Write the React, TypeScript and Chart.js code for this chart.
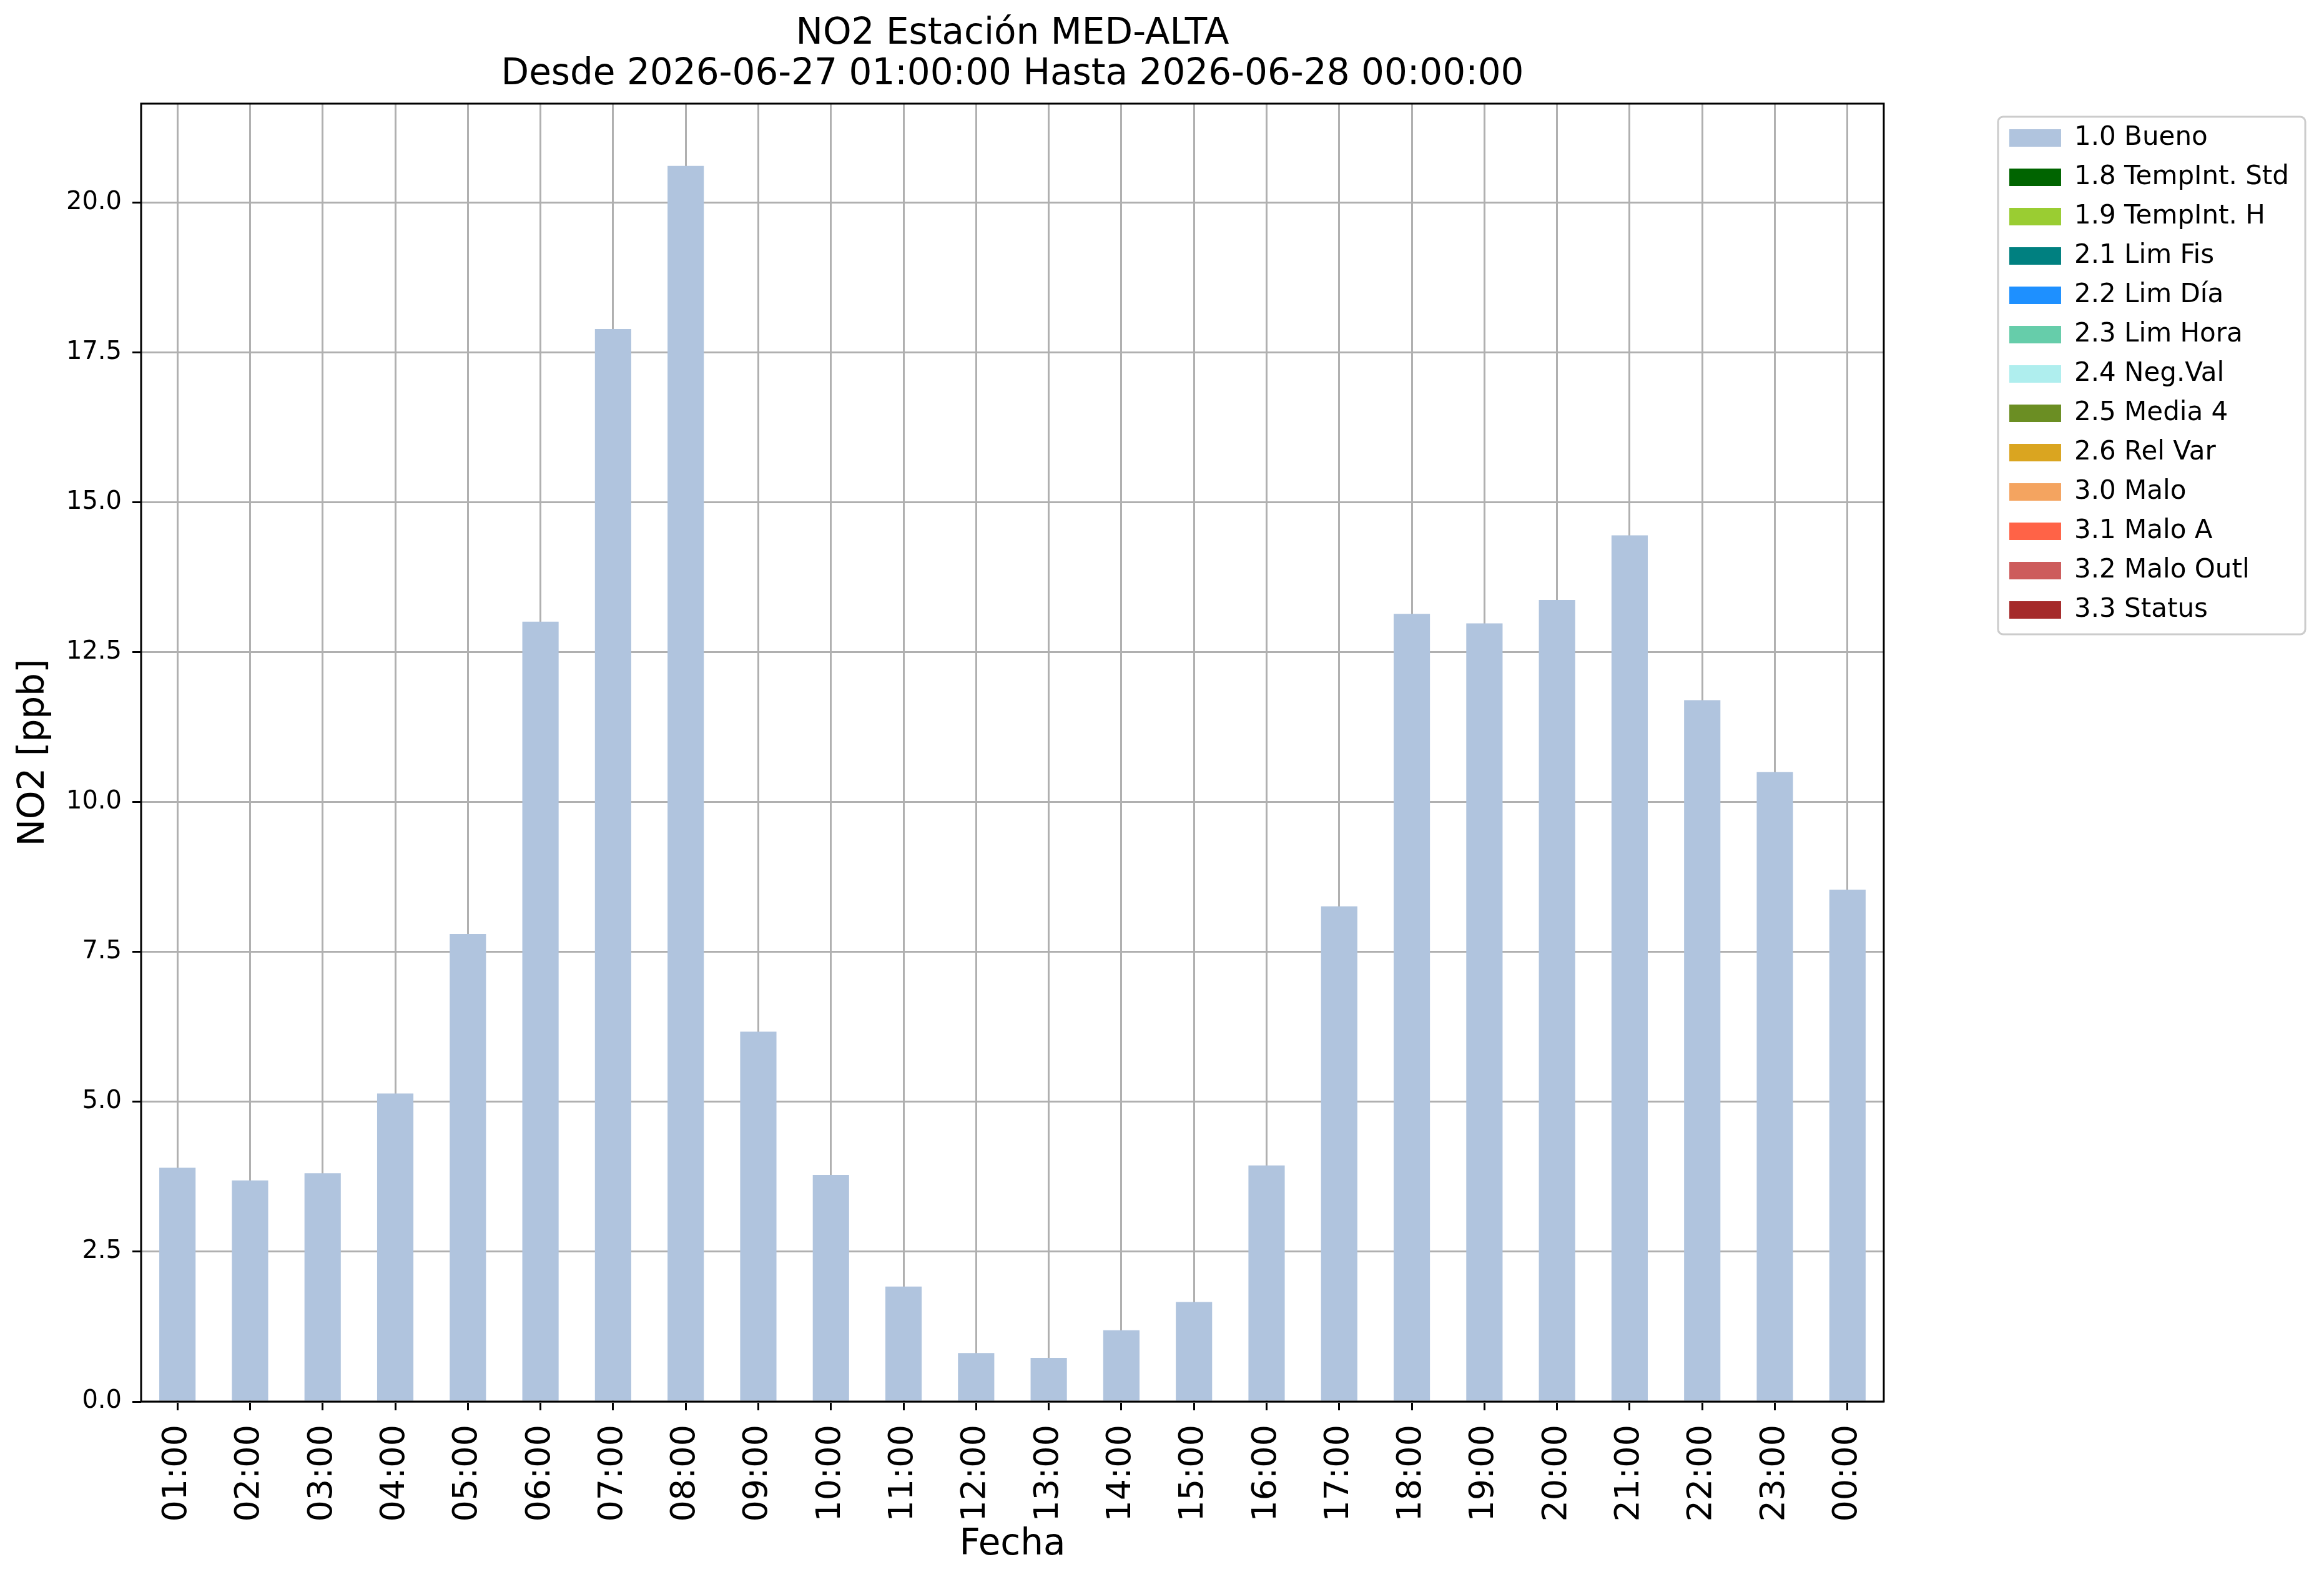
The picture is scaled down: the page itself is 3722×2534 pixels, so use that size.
import { useEffect, useRef } from 'react';
import { Chart, registerables } from 'chart.js';
import type { Plugin } from 'chart.js';

Chart.register(...registerables);

const hours = [
  '01:00', '02:00', '03:00', '04:00', '05:00', '06:00', '07:00', '08:00',
  '09:00', '10:00', '11:00', '12:00', '13:00', '14:00', '15:00', '16:00',
  '17:00', '18:00', '19:00', '20:00', '21:00', '22:00', '23:00', '00:00',
];

// NO2 hourly values flagged "1.0 Bueno" (ppb)
const bueno = [
  3.90, 3.69, 3.81, 5.14, 7.80, 13.01, 17.89, 20.61,
  6.17, 3.78, 1.92, 0.81, 0.73, 1.19, 1.66, 3.94,
  8.26, 13.14, 12.98, 13.37, 14.45, 11.70, 10.50, 8.54,
];

const flagLabels = [
  '1.0 Bueno', '1.8 TempInt. Std', '1.9 TempInt. H', '2.1 Lim Fis', '2.2 Lim Día',
  '2.3 Lim Hora', '2.4 Neg.Val', '2.5 Media 4', '2.6 Rel Var', '3.0 Malo',
  '3.1 Malo A', '3.2 Malo Outl', '3.3 Status',
];

const flagColors = [
  '#b0c4de', '#006400', '#9acd32', '#008080', '#1e90ff',
  '#66cdaa', '#afeeee', '#6b8e23', '#daa520', '#f4a460',
  '#ff6347', '#cd5c5c', '#a52a2a',
];

const yTicks = [0, 2.5, 5, 7.5, 10, 12.5, 15, 17.5, 20];
const yMax = 21.65;

const titleLines = [
  'NO2 Estación MED-ALTA',
  'Desde 2026-06-27 01:00:00 Hasta 2026-06-28 00:00:00',
];

// axes box plus the matplotlib-like legend frame
const framePlugin: Plugin<'bar'> = {
  id: 'frame',
  afterDraw(chart) {
    const { ctx, chartArea: a } = chart;
    ctx.save();
    ctx.strokeStyle = '#000';
    ctx.lineWidth = 3;
    ctx.strokeRect(a.left, a.top, a.right - a.left, a.bottom - a.top);

    const boxes = (chart.legend as any)?.legendHitBoxes;
    if (boxes && boxes.length) {
      const first = boxes[0];
      const last = boxes[boxes.length - 1];
      const right = Math.max(...boxes.map((b: any) => b.left + b.width));
      const x = first.left - 18;
      const y = first.top - 13;
      ctx.strokeStyle = '#cccccc';
      ctx.lineWidth = 3;
      ctx.beginPath();
      ctx.roundRect(x, y, right + 26 - x, last.top + last.height + 18 - y, 8);
      ctx.stroke();
    }
    ctx.restore();
  },
};

export default function App() {
  const canvasRef = useRef<HTMLCanvasElement>(null);

  useEffect(() => {
    if (!canvasRef.current) return;
    document.body.style.margin = '0';

    Chart.defaults.font.family = "'DejaVu Sans', sans-serif";
    Chart.defaults.color = '#000';

    const grid = {
      offset: false,
      color: '#b0b0b0',
      lineWidth: 3,
      tickLength: 14,
      tickWidth: 3,
      tickColor: '#000',
    };

    const chart = new Chart(canvasRef.current, {
      type: 'bar',
      data: {
        labels: hours,
        datasets: flagLabels.map((label, i) => ({
          label,
          data: i === 0 ? bueno : [],
          backgroundColor: flagColors[i],
          borderWidth: 0,
          barPercentage: 0.5,
          categoryPercentage: 1,
          yAxisID: 'y',
        })),
      },
      options: {
        responsive: false,
        devicePixelRatio: 1,
        animation: false,
        layout: { padding: { left: 0, right: 46, top: 0, bottom: 0 } },
        plugins: {
          title: {
            display: true,
            text: titleLines,
            fullSize: false,
            color: '#000',
            font: { size: 58, weight: 'normal', lineHeight: 65 / 58 },
            padding: { top: 22, bottom: 14 },
          },
          legend: {
            position: 'right',
            align: 'start',
            fullSize: false,
            title: {
              display: true,
              text: '',
              font: { size: 1, lineHeight: 1 },
              padding: { top: 12, bottom: 0 },
            },
            labels: {
              font: { size: 42 },
              boxWidth: 83,
              boxHeight: 28,
              padding: 21,
              color: '#000',
            },
          },
          tooltip: { enabled: false },
        },
        scales: {
          x: {
            stacked: true,
            z: 1,
            grid,
            border: { display: false },
            ticks: {
              font: { size: 54 },
              minRotation: 90,
              maxRotation: 90,
              padding: 23,
              autoSkip: false,
              color: '#000',
            },
            title: {
              display: true,
              text: 'Fecha',
              font: { size: 58 },
              padding: { top: 0, bottom: 24 },
            },
            afterFit: (s) => { s.height = 289; },
          },
          y: {
            stacked: true,
            z: 1,
            min: 0,
            max: yMax,
            grid,
            border: { display: false },
            afterBuildTicks: (s) => { s.ticks = yTicks.map((value) => ({ value })); },
            ticks: {
              font: { size: 40 },
              padding: 17,
              color: '#000',
              callback: (v) => Number(v).toFixed(1),
            },
            title: {
              display: true,
              text: 'NO2 [ppb]',
              font: { size: 58 },
              padding: { top: 20, bottom: 0 },
            },
            afterFit: (s) => { s.width = 226; },
          },
          gap: {
            position: 'right',
            display: true,
            grid: { display: false },
            ticks: { display: false },
            border: { display: false },
            afterFit: (s) => { s.width = 180; },
          },
        },
      },
      plugins: [framePlugin],
    });

    return () => {
      chart.destroy();
    };
  }, []);

  return (
    <div style={{ width: 3722, height: 2534, background: '#fff' }}>
      <canvas ref={canvasRef} width={3722} height={2534} />
    </div>
  );
}
